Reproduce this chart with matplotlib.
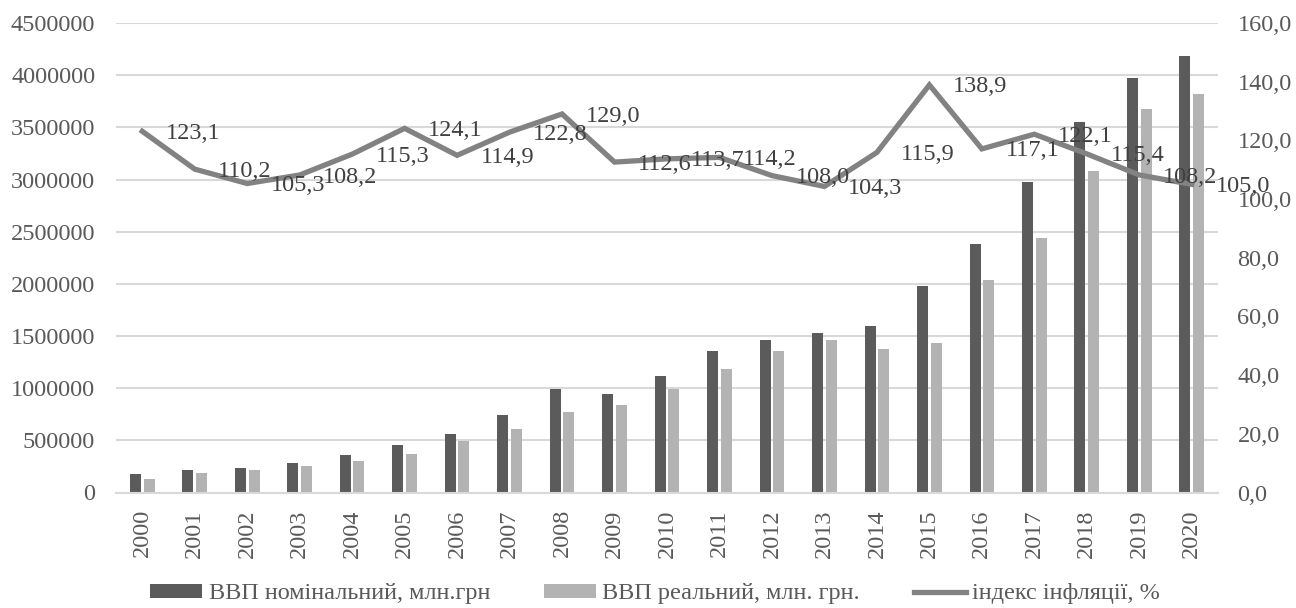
import matplotlib
matplotlib.use('Agg')
import matplotlib.pyplot as plt
import numpy as np
from matplotlib.ticker import FuncFormatter

# дані
years = [2000, 2001, 2002, 2003, 2004, 2005, 2006, 2007, 2008, 2009, 2010,
         2011, 2012, 2013, 2014, 2015, 2016, 2017, 2018, 2019, 2020]
gdp_nominal = [175000, 211000, 236000, 278000, 357000, 460000, 565000, 747000,
               991000, 945000, 1121000, 1352000, 1460000, 1528000, 1592000,
               1980000, 2382000, 2978000, 3555000, 3972000, 4187000]
gdp_real = [132000, 190000, 219000, 254000, 305000, 370000, 491000, 611000,
            768000, 842000, 989000, 1185000, 1355000, 1461000, 1375000,
            1435000, 2035000, 2440000, 3079000, 3673000, 3817000]
inflation = [123.1, 110.2, 105.3, 108.2, 115.3, 124.1, 114.9, 122.8, 129.0,
             112.6, 113.7, 114.2, 108.0, 104.3, 115.9, 138.9, 117.1, 122.1,
             115.4, 108.2, 105.0]

names = ['ВВП номінальний, млн.грн', 'ВВП реальний, млн. грн.', 'індекс інфляції, %']

plt.rcParams['font.family'] = ['Liberation Serif', 'DejaVu Serif']
plt.rcParams['font.size'] = 17.5
txt_color = '#595959'

fig = plt.figure(figsize=(12.96, 6.08), dpi=100)
ax = fig.add_axes([116 / 1296, 1 - 492.5 / 608, 1102 / 1296, 469.5 / 608])

x = np.arange(len(years))
w = 0.21
b1 = ax.bar(x - 0.13, gdp_nominal, w, color='#5b5b5b', label=names[0])
b2 = ax.bar(x + 0.13, gdp_real, w, color='#b3b3b3', label=names[1])

ax.set_xlim(-0.5, len(years) - 0.5)
ax.set_ylim(0, 4500000)
ax.set_yticks(np.arange(0, 4500001, 500000))
ax.yaxis.set_major_formatter(FuncFormatter(lambda v, p: '%d' % v))
ax.yaxis.grid(True, color='#d9d9d9', linewidth=1.5)
ax.set_axisbelow(True)
ax.set_xticks(x)
ax.set_xticklabels([str(y) for y in years], rotation=90)
ax.tick_params(axis='x', length=0, pad=12, colors=txt_color)
ax.tick_params(axis='y', length=0, pad=15, colors=txt_color)
for s in ax.spines.values():
    s.set_visible(False)
ax.spines['bottom'].set_visible(True)
ax.spines['bottom'].set_color('#d9d9d9')
ax.spines['bottom'].set_linewidth(1.5)

ax2 = ax.twinx()
ln, = ax2.plot(x, inflation, color='#828282', linewidth=3.8, label=names[2],
               solid_joinstyle='miter')
ax2.set_ylim(0, 160)
ax2.set_yticks(np.arange(0, 161, 20))
ax2.yaxis.set_major_formatter(FuncFormatter(lambda v, p: ('%.1f' % v).replace('.', ',')))
ax2.tick_params(axis='y', length=0, pad=14, colors=txt_color)
for s in ax2.spines.values():
    s.set_visible(False)

# підписи значень праворуч від точок
for xi, v in zip(x, inflation):
    ax2.annotate(('%.1f' % v).replace('.', ','), (xi, v), xytext=(17, -1.5),
                 textcoords='offset points', ha='left', va='center',
                 color='#404040')

fig.legend([b1, b2, ln], names, loc='center', bbox_to_anchor=(655 / 1296, 14 / 608),
           ncol=3, frameon=False, handlelength=2.14, handleheight=0.49,
           handletextpad=0.25, columnspacing=2.22, labelcolor=txt_color,
           borderaxespad=0, borderpad=0)

plt.savefig('out.png', dpi=100)
